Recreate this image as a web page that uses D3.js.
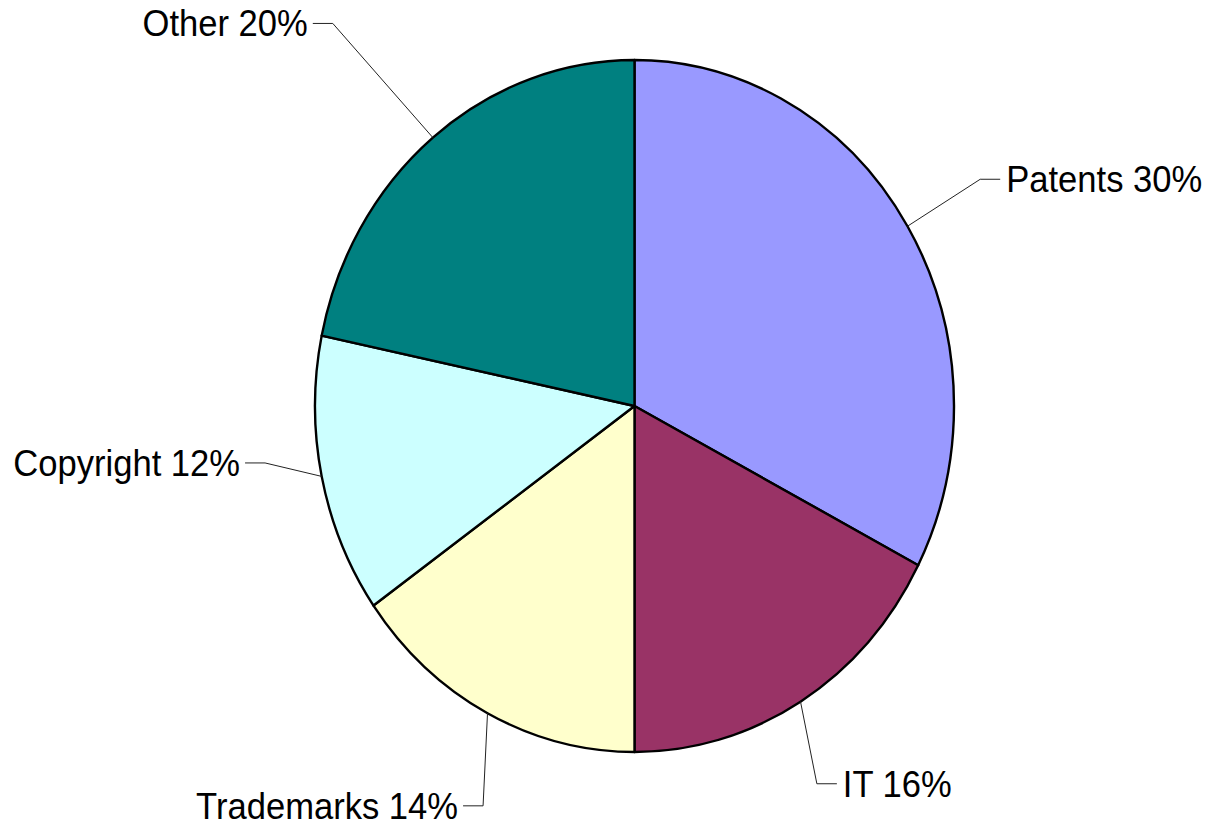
<!DOCTYPE html>
<html>
<head>
<meta charset="utf-8">
<script src="https://cdn.jsdelivr.net/npm/d3@7"></script>
<style>
  html, body { margin: 0; padding: 0; background: #fff; }
  svg { display: block; }
</style>
</head>
<body>
<svg id="chart" width="1209" height="826"></svg>
<script>
// ---- data ----
const categories = ["Patents", "IT", "Trademarks", "Copyright", "Other"];
const values = [30, 16, 14, 12, 20];
const percentLabels = ["30%", "16%", "14%", "12%", "20%"];
const colors = ["#9999FF", "#993366", "#FFFFCC", "#CCFFFF", "#008080"];

// ---- layout settings (label elbow placement: angle in degrees, radius factor) ----
const elbowAngle = [58.8, 152.4, 202.3, 261.9, 319.5];
const elbowRadius = [1.265, 1.232, 1.249, 1.168, 1.454];

const W = 1209, H = 826;
const cx = 634.5, cy = 406, rx = 319.5, ry = 346;

const svg = d3.select("#chart");

const pie = d3.pie().sort(null).value(d => d.v);
const data = categories.map((c, i) => ({ c, v: values[i], p: percentLabels[i], col: colors[i], i }));
const arcs = pie(data);
const arc = d3.arc().innerRadius(0).outerRadius(ry);

const g = svg.append("g")
  .attr("transform", `translate(${cx},${cy}) scale(${rx / ry},1)`);

g.selectAll("path")
  .data(arcs)
  .join("path")
  .attr("d", arc)
  .attr("fill", d => d.data.col)
  .attr("stroke", "#000")
  .attr("stroke-width", 2.4)
  .attr("stroke-linejoin", "round")
  .attr("vector-effect", "non-scaling-stroke");

// point on the ellipse at angle a (radians, clockwise from top), radius factor k
function pt(a, k) {
  return [cx + rx * k * Math.sin(a), cy - ry * k * Math.cos(a)];
}

const labels = svg.append("g");
arcs.forEach((d, i) => {
  const mid = (d.startAngle + d.endAngle) / 2;
  const p0 = pt(mid, 1);
  const p1 = pt(elbowAngle[i] * Math.PI / 180, elbowRadius[i]);
  const right = Math.sin(elbowAngle[i] * Math.PI / 180) > 0;
  const p2 = [p1[0] + (right ? 20 : -20), p1[1]];
  labels.append("polyline")
    .attr("points", [p0, p1, p2].map(p => p.join(",")).join(" "))
    .attr("fill", "none")
    .attr("stroke", "#222")
    .attr("stroke-width", 1);
  const tx = p2[0] + (right ? 6 : -5);
  labels.append("text")
    .attr("transform", `translate(${tx},${p2[1] + 13}) scale(0.935,1)`)
    .attr("text-anchor", right ? "start" : "end")
    .attr("font-family", "'Liberation Sans', Arial, sans-serif")
    .attr("font-size", 37)
    .attr("fill", "#000")
    .text(`${d.data.c} ${d.data.p}`);
});
</script>
</body>
</html>
